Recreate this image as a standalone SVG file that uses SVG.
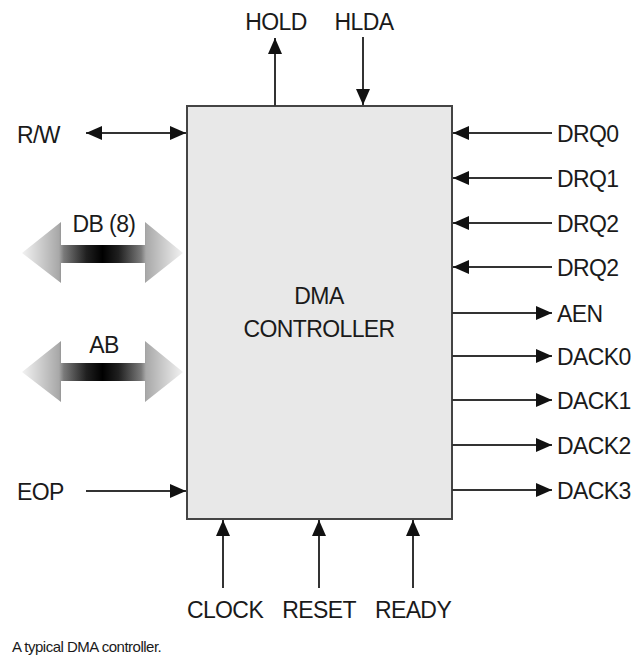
<svg xmlns="http://www.w3.org/2000/svg" width="631" height="660" viewBox="0 0 631 660">
<defs>
<style>
text{font-family:"Liberation Sans",Arial,sans-serif;font-size:23px;fill:#1a1a1a;letter-spacing:-0.6px}
.c{text-anchor:middle}
.w{stroke:#333;stroke-width:2;fill:none}
</style>
<marker id="ah" viewBox="0 0 16 14" refX="16" refY="7" markerWidth="16" markerHeight="14" markerUnits="userSpaceOnUse" orient="auto-start-reverse">
<path d="M0,0 L16,7 L0,14 z" fill="#111"/>
</marker>
<linearGradient id="bus" x1="0" y1="0" x2="1" y2="0">
<stop offset="0" stop-color="#f2f2f2"/>
<stop offset="0.23" stop-color="#a8a8a8"/>
<stop offset="0.26" stop-color="#7a7a7a"/>
<stop offset="0.4" stop-color="#202020"/>
<stop offset="0.5" stop-color="#000"/>
<stop offset="0.6" stop-color="#202020"/>
<stop offset="0.74" stop-color="#7a7a7a"/>
<stop offset="0.77" stop-color="#a8a8a8"/>
<stop offset="1" stop-color="#f2f2f2"/>
</linearGradient>
</defs>
<rect width="631" height="660" fill="#fff"/>
<g id="controller">
<rect x="187" y="106" width="265" height="413" fill="#e8e8e8" stroke="#444" stroke-width="2"/>
<text class="c" x="319" y="304">DMA</text>
<text class="c" x="319" y="337">CONTROLLER</text>
</g>
<g id="connectors">
<line class="w" x1="275" y1="106" x2="275" y2="38" marker-end="url(#ah)"/>
<line class="w" x1="363" y1="37" x2="363" y2="105" marker-end="url(#ah)"/>
<line class="w" x1="86" y1="133" x2="186" y2="133" marker-start="url(#ah)" marker-end="url(#ah)"/>
<line class="w" x1="86" y1="491" x2="186" y2="491" marker-end="url(#ah)"/>
<line class="w" x1="552" y1="133" x2="453" y2="133" marker-end="url(#ah)"/>
<line class="w" x1="552" y1="178" x2="453" y2="178" marker-end="url(#ah)"/>
<line class="w" x1="552" y1="223" x2="453" y2="223" marker-end="url(#ah)"/>
<line class="w" x1="552" y1="267" x2="453" y2="267" marker-end="url(#ah)"/>
<line class="w" x1="452" y1="313" x2="552" y2="313" marker-end="url(#ah)"/>
<line class="w" x1="452" y1="356" x2="552" y2="356" marker-end="url(#ah)"/>
<line class="w" x1="452" y1="400" x2="552" y2="400" marker-end="url(#ah)"/>
<line class="w" x1="452" y1="445" x2="552" y2="445" marker-end="url(#ah)"/>
<line class="w" x1="452" y1="490" x2="552" y2="490" marker-end="url(#ah)"/>
<line class="w" x1="223" y1="588" x2="223" y2="520" marker-end="url(#ah)"/>
<line class="w" x1="319" y1="588" x2="319" y2="520" marker-end="url(#ah)"/>
<line class="w" x1="413" y1="588" x2="413" y2="520" marker-end="url(#ah)"/>
</g>
<g id="db-bus">
<path d="M22,253 L61,222 L61,245 L145,245 L145,222 L183,253 L145,283 L145,263 L61,263 L61,283 Z" fill="url(#bus)"/>
<text class="c" x="104" y="232">DB (8)</text>
</g>
<g id="ab-bus">
<path d="M22,372 L61,341 L61,363 L145,363 L145,341 L183,372 L145,402 L145,381 L61,381 L61,402 Z" fill="url(#bus)"/>
<text class="c" x="104" y="353">AB</text>
</g>
<g id="labels">
<text class="c" x="276" y="30">HOLD</text>
<text class="c" x="364" y="30">HLDA</text>
<text x="17" y="143">R/W</text>
<text x="17" y="500">EOP</text>
<text x="557" y="142">DRQ0</text>
<text x="557" y="187">DRQ1</text>
<text x="557" y="232">DRQ2</text>
<text x="557" y="276">DRQ2</text>
<text x="557" y="322">AEN</text>
<text x="557" y="365">DACK0</text>
<text x="557" y="409">DACK1</text>
<text x="557" y="454">DACK2</text>
<text x="557" y="499">DACK3</text>
<text class="c" x="225" y="618">CLOCK</text>
<text class="c" x="319" y="618">RESET</text>
<text class="c" x="413" y="618">READY</text>
<text x="12" y="652" style="font-size:15px;letter-spacing:-0.5px">A typical DMA controller.</text>
</g>
</svg>
